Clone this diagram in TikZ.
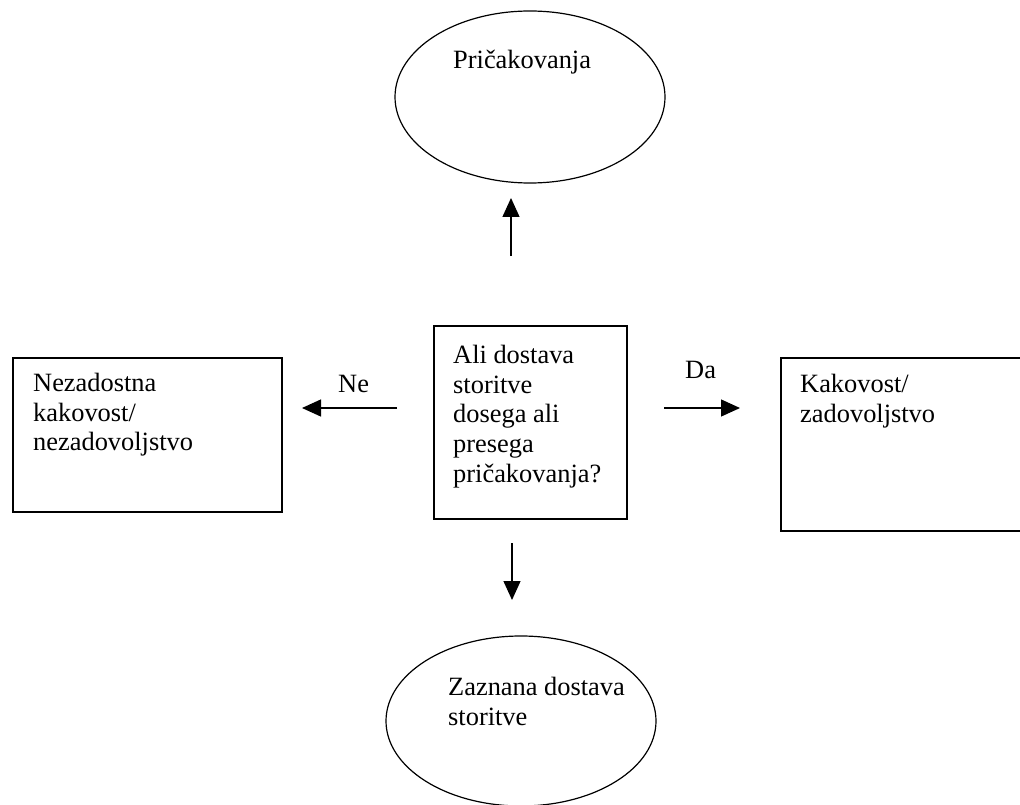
\documentclass[tikz,border=0pt]{standalone}
\usepackage{fontspec}
\setmainfont{Liberation Serif}
\usetikzlibrary{shapes.geometric,arrows.meta}
\begin{document}
\begin{tikzpicture}[x=1pt,y=-1pt,
  box/.style={draw,line width=1.5pt,rectangle,anchor=north west,inner sep=0pt},
  oval/.style={draw,line width=1.2pt,ellipse,inner sep=0pt},
  txt/.style={font=\fontsize{26.4}{29.7}\selectfont,align=left,anchor=north west,inner sep=0pt},
  arr/.style={line width=1.3pt,-{Triangle[length=19pt,width=17pt]}}]
\useasboundingbox[fill=white] (0,0) rectangle (1020,805);
% shapes
\node[oval,minimum width=270pt,minimum height=172pt] (T) at (530,97) {};
\node[oval,minimum width=270pt,minimum height=170pt] (B) at (521,721) {};
\node[box,minimum width=193pt,minimum height=193pt] (C) at (433,325) {};
\node[box,minimum width=269pt,minimum height=154pt] (L) at (12,357) {};
\node[box,minimum width=260pt,minimum height=173pt] (R) at (780,357) {};
% texts
\node[txt] (tT) at (453,50) {Pričakovanja};
\node[txt] (tB) at (448,677) {Zaznana dostava\\storitve};
\node[txt] (tC) at (453,345) {Ali dostava\\storitve\\dosega ali\\presega\\pričakovanja?};
\node[txt] (tL) at (33,373) {Nezadostna\\kakovost/\\nezadovoljstvo};
\node[txt] (tR) at (800,374) {Kakovost/\\zadovoljstvo};
\node[txt] (ne) at (338,375) {Ne};
\node[txt] (da) at (685,361) {Da};
% connectors
\coordinate (uS) at (511,256); \coordinate (uE) at (511,198);
\coordinate (dS) at (512,543); \coordinate (dE) at (512,600);
\coordinate (lS) at (397,408); \coordinate (lE) at (302,408);
\coordinate (rS) at (664,408); \coordinate (rE) at (740,408);
\draw[arr] (uS) -- (uE);
\draw[arr] (dS) -- (dE);
\draw[arr] (lS) -- (lE);
\draw[arr] (rS) -- (rE);
\end{tikzpicture}
\end{document}
